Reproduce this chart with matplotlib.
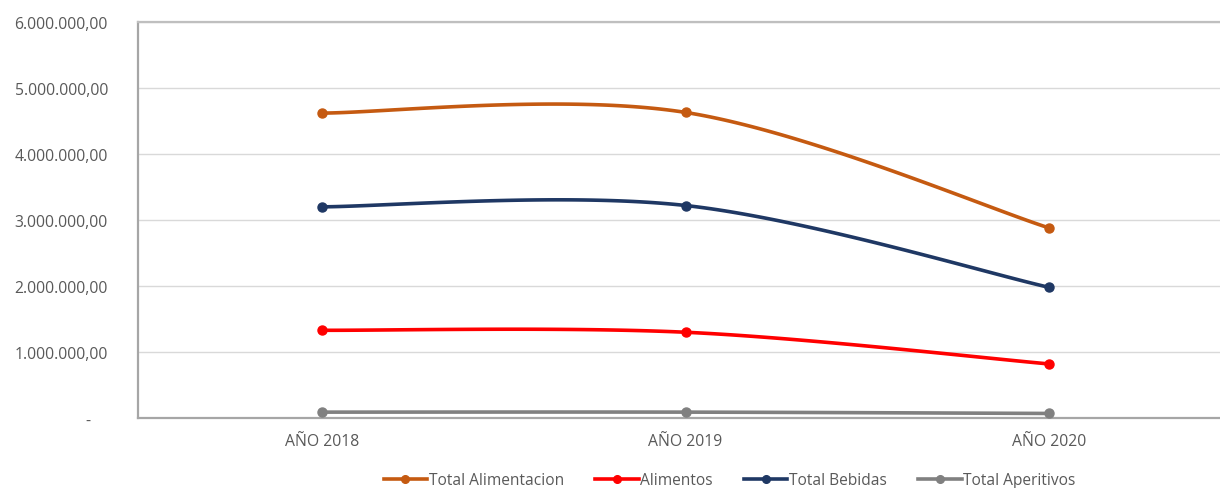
import numpy as np
import matplotlib.pyplot as plt
from matplotlib.ticker import FuncFormatter

# values
years = ['AÑO 2018', 'AÑO 2019', 'AÑO 2020']
total_alimentacion = [4620000, 4630000, 2880000]
alimentos = [1330000, 1300000, 820000]
total_bebidas = [3200000, 3220000, 1980000]
total_aperitivos = [90000, 90000, 70000]

series = [
    ('Total Alimentacion', total_alimentacion, '#C55A11'),
    ('Alimentos', alimentos, '#FF0000'),
    ('Total Bebidas', total_bebidas, '#1F3864'),
    ('Total Aperitivos', total_aperitivos, '#808080'),
]


def smooth(x, y, n=60):
    # Excel-like smoothing: cubic bezier, control points from neighbours / 6
    x = np.asarray(x, float)
    y = np.asarray(y, float)
    px, py = [], []
    for i in range(len(x) - 1):
        i0 = max(i - 1, 0)
        i3 = min(i + 2, len(x) - 1)
        c1 = (x[i] + (x[i + 1] - x[i0]) / 6, y[i] + (y[i + 1] - y[i0]) / 6)
        c2 = (x[i + 1] - (x[i3] - x[i]) / 6, y[i + 1] - (y[i3] - y[i]) / 6)
        t = np.linspace(0, 1, n)
        bx = (1 - t)**3 * x[i] + 3 * (1 - t)**2 * t * c1[0] + 3 * (1 - t) * t**2 * c2[0] + t**3 * x[i + 1]
        by = (1 - t)**3 * y[i] + 3 * (1 - t)**2 * t * c1[1] + 3 * (1 - t) * t**2 * c2[1] + t**3 * y[i + 1]
        px.extend(bx)
        py.extend(by)
    return np.array(px), np.array(py)


plt.rcParams['font.family'] = ['Open Sans', 'DejaVu Sans']
fig = plt.figure(figsize=(12.2, 4.89), dpi=100)
ax = fig.add_axes([0.1135, 0.143, 0.8865, 0.81])

xs = np.arange(len(years))
for name, vals, col in series:
    sx, sy = smooth(xs, vals)
    ax.plot(sx, sy, color=col, lw=2.6, solid_capstyle='round', zorder=3)
    ax.plot(xs, vals, 'o', color=col, ms=6.5, zorder=4)
    ax.plot([], [], '-o', color=col, lw=2.6, ms=5.5, label=name)

ax.set_ylim(0, 6000000)
ax.set_xlim(-0.505, 2.47)
ax.set_yticks(np.arange(0, 6000001, 1000000))
ax.set_xticks(xs)
ax.set_xticklabels(years)


def fmt(v, pos):
    if v == 0:
        return '-    '
    s = f'{v:,.2f}'
    return s.replace(',', 'X').replace('.', ',').replace('X', '.')


ax.yaxis.set_major_formatter(FuncFormatter(fmt))
ax.tick_params(axis='both', length=0, labelcolor='#595959')
ax.tick_params(axis='y', pad=22, labelsize=11.3)
ax.tick_params(axis='x', pad=11, labelsize=11.3)

ax.grid(axis='y', color='#D9D9D9', lw=1)
ax.set_axisbelow(True)
ax.spines['right'].set_visible(False)
for s in ['left', 'bottom', 'top']:
    ax.spines[s].set_color('#A6A6A6')
    ax.spines[s].set_linewidth(1.6)
ax.spines['top'].set_color('#BFBFBF')

fig.legend(loc='center', bbox_to_anchor=(0.598, 0.016), ncol=4, frameon=False,
           fontsize=11.2, labelcolor='#595959', handlelength=2.8, handletextpad=0.1,
           columnspacing=2.0)

fig.savefig('out.png', dpi=100)
